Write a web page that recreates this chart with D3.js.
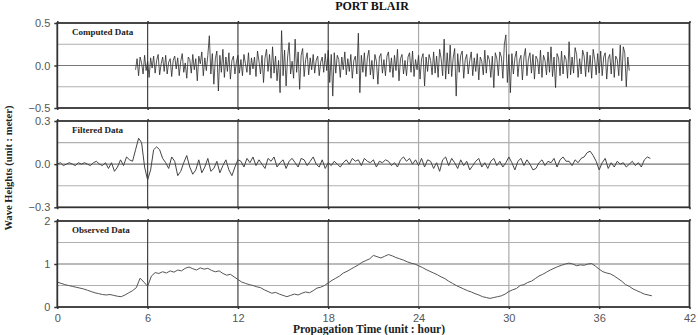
<!DOCTYPE html>
<html>
<head>
<meta charset="utf-8">
<script src="https://cdn.jsdelivr.net/npm/d3@7"></script>
<style>
body { margin: 0; background: #fff; }
</style>
</head>
<body>
<div id="chart"></div>
<script>
// hours on the x axis
var hourTicks = [0, 6, 12, 18, 24, 30, 36, 42];

// computed data, one value every 0.1 h from 5.2 h
var computedStart = 5.2, computedStep = 0.1;
var computedData = [
  -0.05,0.08,-0.12,0.10,0.03,-0.10,0.12,-0.06,0.05,-0.14,
  0.09,-0.03,0.11,-0.09,0.06,0.13,-0.11,0.02,0.10,-0.07,
  0.12,-0.10,0.04,0.08,-0.13,0.06,0.11,-0.04,0.09,-0.12,
  0.05,0.14,-0.08,0.03,-0.15,0.10,0.07,-0.09,0.13,-0.05,
  0.08,-0.18,0.11,0.02,0.16,-0.12,0.09,-0.06,0.12,0.35,
  -0.10,0.14,-0.22,0.08,0.17,-0.30,0.12,-0.08,0.19,-0.14,
  0.10,-0.07,0.15,-0.16,0.06,0.11,-0.10,0.04,0.12,-0.09,
  0.07,-0.12,0.13,0.02,-0.08,0.15,-0.11,0.09,-0.04,0.10,
  -0.13,0.17,0.05,-0.10,0.12,-0.20,0.09,0.19,-0.07,0.13,
  -0.15,0.22,-0.09,0.11,-0.18,0.06,-0.32,0.41,-0.12,0.18,
  -0.24,0.10,0.27,-0.10,0.05,-0.15,0.31,-0.08,0.16,-0.28,
  0.12,0.20,-0.13,0.07,0.15,-0.11,0.09,-0.05,0.13,-0.09,
  0.06,0.11,-0.12,0.04,0.10,-0.08,0.14,-0.06,0.18,-0.20,
  0.13,-0.36,0.15,-0.09,0.12,0.07,-0.14,0.10,-0.05,0.16,
  -0.11,0.08,-0.07,0.13,-0.15,0.06,0.11,-0.10,0.38,-0.32,
  0.12,-0.08,0.15,-0.13,0.09,0.18,-0.11,0.06,-0.16,0.13,
  0.05,-0.22,0.10,0.14,-0.09,0.07,-0.12,0.11,0.16,-0.08,
  0.09,-0.14,0.12,-0.06,0.19,-0.18,0.08,0.13,-0.10,0.06,
  -0.12,0.10,0.15,-0.08,0.17,-0.13,0.07,-0.05,0.12,-0.16,
  0.08,0.14,-0.24,0.10,-0.07,0.13,0.06,-0.11,0.16,-0.09,
  0.11,-0.14,0.19,0.08,-0.12,0.31,-0.16,0.15,-0.10,0.24,
  -0.13,0.09,0.20,-0.36,0.14,-0.08,0.12,0.17,-0.15,0.07,
  0.13,-0.10,0.06,0.16,-0.12,0.09,-0.07,0.14,-0.17,0.10,
  0.05,-0.11,0.18,-0.09,0.12,0.07,-0.14,0.11,-0.26,0.15,
  0.08,-0.12,0.16,0.10,-0.15,0.25,0.36,-0.20,0.13,-0.32,
  0.14,-0.10,0.09,0.17,-0.13,0.06,0.12,-0.17,0.10,0.20,
  -0.12,0.08,0.15,-0.09,0.13,-0.16,0.11,0.07,-0.10,0.18,
  -0.14,0.12,0.06,-0.11,0.16,-0.08,0.22,-0.13,0.10,-0.26,
  0.14,0.09,-0.12,0.17,-0.10,0.12,0.07,-0.15,0.28,-0.11,
  0.10,-0.09,0.21,0.13,-0.14,0.08,-0.10,0.18,0.11,-0.13,
  0.16,-0.08,0.12,-0.15,0.19,0.07,-0.11,0.14,-0.09,0.17,
  -0.12,0.10,0.15,-0.16,0.08,0.13,-0.10,0.20,-0.14,0.11,
  0.07,-0.12,0.24,-0.18,0.22,0.15,-0.25,0.10,-0.06
];

// filtered data, one value every 0.2 h from 0 h
var filteredStart = 0, filteredStep = 0.2;
var filteredData = [
  0.00,0.01,-0.01,0.00,0.01,0.00,-0.01,0.01,0.00,0.01,
  0.00,-0.01,0.01,0.02,0.00,-0.01,0.01,-0.03,0.01,-0.05,
  -0.02,0.03,-0.01,0.05,0.03,0.02,0.10,0.18,0.15,-0.02,
  -0.11,-0.04,0.10,0.12,0.10,0.04,0.01,-0.03,0.05,0.02,
  -0.08,-0.05,0.01,0.06,-0.02,-0.07,-0.04,0.03,-0.06,-0.02,
  0.04,-0.05,-0.03,0.02,-0.06,-0.01,0.03,-0.04,-0.08,-0.02,
  0.03,0.02,-0.02,0.04,0.01,0.05,-0.01,0.03,0.00,-0.03,
  0.04,0.02,0.05,-0.02,0.01,0.03,-0.03,0.02,0.04,0.01,
  -0.02,0.04,0.03,-0.01,0.02,0.05,0.00,-0.02,0.03,-0.03,
  0.01,-0.01,0.02,0.00,-0.02,0.01,0.03,0.00,0.04,0.02,
  0.03,-0.01,0.04,0.02,0.01,0.03,-0.02,0.02,0.01,0.03,
  0.02,-0.01,0.01,-0.02,0.03,0.05,0.02,0.04,0.00,0.03,
  -0.01,0.04,-0.02,0.03,0.02,-0.03,0.01,-0.05,0.03,0.05,
  -0.01,0.04,0.01,-0.03,0.03,-0.01,0.02,-0.04,-0.01,0.02,
  0.04,-0.02,0.01,-0.03,0.02,0.04,-0.01,0.02,-0.02,0.01,
  0.05,0.01,-0.04,0.02,0.04,-0.01,0.03,0.00,-0.04,-0.03,
  0.01,0.03,-0.01,0.02,0.01,0.04,-0.02,0.03,0.05,0.02,
  0.02,-0.01,0.03,0.01,0.04,0.05,0.08,0.09,0.06,0.02,
  -0.04,0.01,0.04,-0.03,0.01,-0.02,0.02,0.00,0.01,-0.02,
  0.00,0.02,-0.01,0.01,-0.02,0.03,0.05,0.04
];

// observed data, one value every 0.25 h from 0 h
var observedStart = 0, observedStep = 0.25;
var observedData = [
  0.58,0.55,0.52,0.50,0.48,0.46,0.44,0.42,
  0.39,0.36,0.33,0.31,0.29,0.28,0.29,0.27,
  0.25,0.24,0.28,0.33,0.38,0.45,0.67,0.58,
  0.48,0.72,0.80,0.78,0.82,0.79,0.84,0.81,
  0.86,0.84,0.90,0.93,0.89,0.86,0.91,0.88,
  0.90,0.85,0.82,0.84,0.78,0.74,0.76,0.70,
  0.64,0.58,0.55,0.52,0.50,0.47,0.45,0.40,
  0.36,0.32,0.34,0.30,0.27,0.24,0.27,0.30,
  0.28,0.32,0.35,0.33,0.38,0.44,0.46,0.50,
  0.56,0.62,0.67,0.72,0.79,0.83,0.88,0.93,
  0.98,1.04,1.08,1.12,1.20,1.17,1.14,1.18,
  1.22,1.19,1.15,1.12,1.09,1.05,1.02,1.00,
  0.96,0.92,0.87,0.83,0.79,0.75,0.70,0.66,
  0.60,0.55,0.50,0.46,0.42,0.38,0.35,0.31,
  0.28,0.24,0.22,0.20,0.22,0.24,0.26,0.30,
  0.36,0.40,0.43,0.50,0.52,0.57,0.60,0.66,
  0.72,0.76,0.81,0.86,0.90,0.94,0.97,1.00,
  1.02,1.00,0.96,0.98,0.97,1.00,1.01,0.95,
  0.88,0.82,0.79,0.77,0.72,0.66,0.60,0.52,
  0.48,0.42,0.38,0.34,0.30,0.28,0.26
];

// y axis ticks and grid lines for each panel
var computedTicks = [-0.5, 0, 0.5], computedGrid = [-0.25, 0.25];
var filteredTicks = [-0.3, 0, 0.3], filteredGrid = [-0.15, 0.15];
var observedTicks = [0, 1, 2], observedGrid = [0.5, 1.5];

var cWidth = 698, cHeight = 335;
var margin = {left: 57.3, right: 8.5};

var svgContainer = d3.select("#chart").append("svg")
  .attr("width", cWidth)
  .attr("height", cHeight);

var xScale = d3.scaleLinear()
  .domain([0, 42])
  .range([margin.left, cWidth - margin.right]);

var drawPanel = function(data, start, step, yTicks, yGrid, top, bottom, label, fmt, lineColor, lineWidth, showX) {

  var yScale = d3.scaleLinear()
    .domain([yTicks[0], yTicks[2]])
    .range([bottom, top]);

  var g = svgContainer.append("g");

  // horizontal grid
  g.selectAll("line.hgrid")
    .data(yGrid)
    .enter()
    .append("line")
    .attr("x1", xScale(0)).attr("x2", xScale(42))
    .attr("y1", function(d) {return yScale(d);})
    .attr("y2", function(d) {return yScale(d);})
    .style("stroke", "#b0b0b0")
    .style("stroke-width", 1.2);

  g.append("line")
    .attr("x1", xScale(0)).attr("x2", xScale(42))
    .attr("y1", yScale(yTicks[1])).attr("y2", yScale(yTicks[1]))
    .style("stroke", "#777")
    .style("stroke-width", 1.2);

  // vertical grid
  g.selectAll("line.vgrid")
    .data(hourTicks.slice(1, -1))
    .enter()
    .append("line")
    .attr("x1", function(d) {return xScale(d);})
    .attr("x2", function(d) {return xScale(d);})
    .attr("y1", top).attr("y2", bottom)
    .style("stroke", function(d) {return d <= 18 ? "#444" : "#aaa";})
    .style("stroke-width", 1.2);

  var line = d3.line()
    .x(function(d, i) {return xScale(start + i * step);})
    .y(function(d) {return yScale(d);});

  g.append("path")
    .datum(data)
    .attr("d", line)
    .style("fill", "none")
    .style("stroke", lineColor)
    .style("stroke-width", lineWidth);

  // frame
  g.append("rect")
    .attr("x", xScale(0)).attr("y", top)
    .attr("width", xScale(42) - xScale(0))
    .attr("height", bottom - top)
    .style("fill", "none")
    .style("stroke", "#333")
    .style("stroke-width", 1.8);

  var yAxis = d3.axisLeft(yScale)
    .tickValues(yTicks)
    .tickSize(3)
    .tickPadding(4)
    .tickFormat(fmt);

  var yAxisGroup = g.append("g")
    .attr("transform", "translate(" + xScale(0) + ",0)")
    .call(yAxis);
  yAxisGroup.select(".domain").remove();
  yAxisGroup.selectAll("text")
    .style("font-family", "Liberation Sans, Arial, sans-serif")
    .style("font-size", "11px")
    .style("fill", "#555");
  yAxisGroup.selectAll("line").style("stroke", "#333").style("stroke-width", 1.5);

  var topAxis = d3.axisTop(xScale).tickValues(hourTicks).tickSize(2).tickFormat("");
  var topGroup = g.append("g").attr("transform", "translate(0," + top + ")").call(topAxis);
  topGroup.select(".domain").remove();
  topGroup.selectAll("line").style("stroke", "#333").style("stroke-width", 1.5);

  var xAxis = d3.axisBottom(xScale).tickValues(hourTicks).tickSize(2).tickPadding(5);
  if(!showX) {
    xAxis.tickFormat("");
  }
  var xAxisGroup = g.append("g")
    .attr("transform", "translate(0," + bottom + ")")
    .call(xAxis);
  xAxisGroup.select(".domain").remove();
  xAxisGroup.selectAll("line").style("stroke", "#333").style("stroke-width", 1.5);
  xAxisGroup.selectAll("text")
    .style("font-family", "Liberation Sans, Arial, sans-serif")
    .style("font-size", "11px")
    .style("fill", "#555");

  g.append("text")
    .attr("x", 72)
    .attr("y", top + 12)
    .style("font-family", "Liberation Serif, Times New Roman, serif")
    .style("font-weight", "bold")
    .style("font-size", "9px")
    .style("fill", "#222")
    .text(label);

  return [g, yScale];
};

drawPanel(computedData, computedStart, computedStep, computedTicks, computedGrid,
  23, 108, "Computed Data", d3.format(".1f"), "#2a2a2a", 0.8, false);
drawPanel(filteredData, filteredStart, filteredStep, filteredTicks, filteredGrid,
  121, 207.3, "Filtered Data", d3.format(".1f"), "#444", 1, false);
drawPanel(observedData, observedStart, observedStep, observedTicks, observedGrid,
  221, 307, "Observed Data", d3.format("d"), "#555", 1, true);

svgContainer.append("text")
  .attr("x", 372)
  .attr("y", 10)
  .attr("text-anchor", "middle")
  .style("font-family", "Liberation Serif, Times New Roman, serif")
  .style("font-weight", "bold")
  .style("font-size", "12px")
  .style("fill", "#111")
  .text("PORT BLAIR");

svgContainer.append("text")
  .attr("x", 369)
  .attr("y", 333)
  .attr("text-anchor", "middle")
  .style("font-family", "Liberation Serif, Times New Roman, serif")
  .style("font-weight", "bold")
  .style("font-size", "11.5px")
  .style("fill", "#222")
  .text("Propagation Time (unit : hour)");

svgContainer.append("text")
  .attr("transform", "translate(12,168) rotate(-90)")
  .attr("text-anchor", "middle")
  .style("font-family", "Liberation Serif, Times New Roman, serif")
  .style("font-weight", "bold")
  .style("font-size", "10.5px")
  .style("fill", "#222")
  .text("Wave Heights (unit : meter)");
</script>
</body>
</html>
